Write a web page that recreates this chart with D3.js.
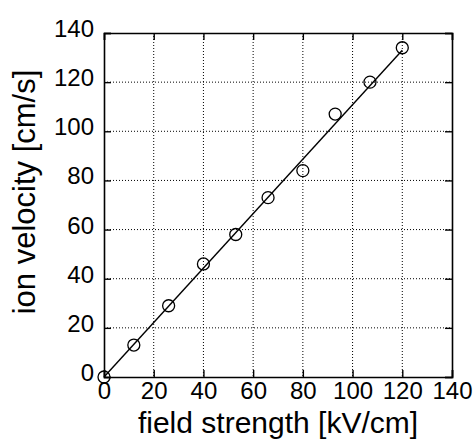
<!DOCTYPE html>
<html>
<head>
<meta charset="utf-8">
<script src="https://cdn.jsdelivr.net/npm/d3@7"></script>
<style>
  body { margin: 0; background: #fff; }
  svg { display: block; font-family: "Liberation Sans", Arial, sans-serif; }
  .grid line { stroke: #000; stroke-width: 1; stroke-dasharray: 1,2; }
</style>
</head>
<body>
<div id="chart"></div>
<script>
// measured points
var fieldStrength = [0, 12, 26, 40, 53, 66, 80, 93, 107, 120];
var ionVelocity = [0, 13, 29, 46, 58, 73, 84, 107, 120, 134];
// linear fit
var fitX = [0, 120];
var fitY = [0, 133];
var xTicks = [0, 20, 40, 60, 80, 100, 120, 140];
var yTicks = [0, 20, 40, 60, 80, 100, 120, 140];
var xTitle = 'field strength [kV/cm]';
var yTitle = 'ion velocity [cm/s]';

var width = 476, height = 439;
var margin = { top: 33, right: 24, bottom: 62, left: 104 };
var w = width - margin.left - margin.right;
var h = height - margin.top - margin.bottom;

var svg = d3.select('#chart').append('svg')
    .attr('width', width)
    .attr('height', height);
var g = svg.append('g')
    .attr('transform', 'translate(' + margin.left + ',' + margin.top + ')');

var x = d3.scaleLinear().domain([0, 140]).range([0, w]);
var y = d3.scaleLinear().domain([0, 140]).range([h, 0]);

// dotted grid
var grid = g.append('g').attr('class', 'grid');
grid.selectAll('.gx').data(xTicks.slice(1, -1)).enter().append('line')
    .attr('x1', function (d) { return x(d); })
    .attr('x2', function (d) { return x(d); })
    .attr('y1', 0).attr('y2', h);
grid.selectAll('.gy').data(yTicks.slice(1, -1)).enter().append('line')
    .attr('y1', function (d) { return y(d); })
    .attr('y2', function (d) { return y(d); })
    .attr('x1', 0).attr('x2', w);

// axes with inward ticks on all four sides
var tickLen = 7;
var axBottom = g.append('g').attr('transform', 'translate(0,' + h + ')')
    .call(d3.axisBottom(x).tickValues(xTicks).tickSize(-tickLen).tickPadding(8));
var axTop = g.append('g')
    .call(d3.axisTop(x).tickValues(xTicks).tickSize(-tickLen).tickFormat(''));
var axLeft = g.append('g')
    .call(d3.axisLeft(y).tickValues(yTicks).tickSize(-tickLen).tickPadding(10));
var axRight = g.append('g').attr('transform', 'translate(' + w + ',0)')
    .call(d3.axisRight(y).tickValues(yTicks).tickSize(-tickLen).tickFormat(''));

[axBottom, axTop, axLeft, axRight].forEach(function (a) {
    a.select('.domain').attr('stroke', '#000').attr('stroke-width', 1.6);
    a.selectAll('.tick line').attr('stroke', '#000').attr('stroke-width', 1.4);
    a.selectAll('text')
        .attr('font-family', '"Liberation Sans", Arial, sans-serif')
        .attr('font-size', 24)
        .attr('fill', '#000');
});
axBottom.selectAll('text').attr('dy', null).attr('y', 22);
axLeft.selectAll('text').attr('dy', null).attr('y', 3.5).attr('x', -10);

// fit line
var line = d3.line()
    .x(function (d) { return x(d[0]); })
    .y(function (d) { return y(d[1]); });
g.append('path')
    .datum(d3.zip(fitX, fitY))
    .attr('d', line)
    .attr('fill', 'none')
    .attr('stroke', '#000')
    .attr('stroke-width', 1.4);

// data circles
g.selectAll('circle').data(d3.zip(fieldStrength, ionVelocity)).enter().append('circle')
    .attr('cx', function (d) { return x(d[0]); })
    .attr('cy', function (d) { return y(d[1]); })
    .attr('r', 6)
    .attr('fill', 'none')
    .attr('stroke', '#000')
    .attr('stroke-width', 1.3);

// titles
svg.append('text')
    .attr('x', margin.left + w / 2)
    .attr('y', 432.5)
    .attr('text-anchor', 'middle')
    .attr('font-size', 30)
    .text(xTitle);
svg.append('text')
    .attr('transform', 'translate(35,' + 192 + ') rotate(-90)')
    .attr('text-anchor', 'middle')
    .attr('font-size', 31)
    .text(yTitle);
</script>
</body>
</html>
